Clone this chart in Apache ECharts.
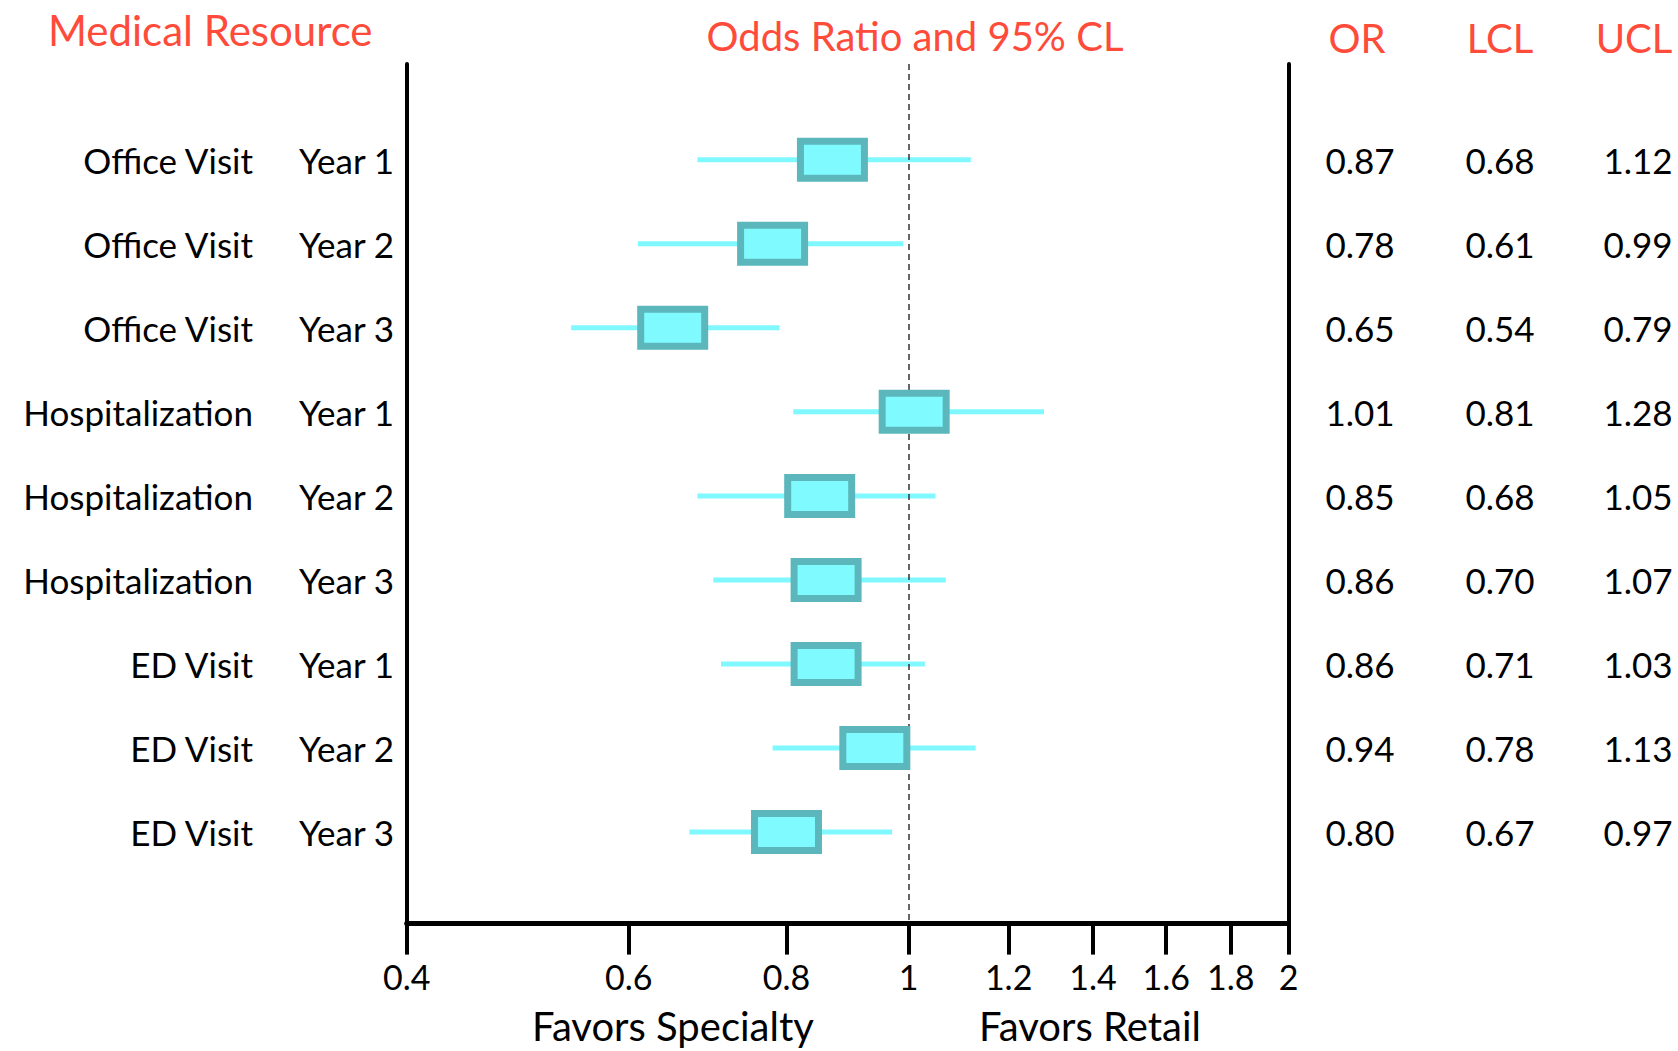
<!DOCTYPE html>
<html>
<head>
<meta charset="utf-8">
<script src="https://cdn.jsdelivr.net/npm/echarts@6/dist/echarts.min.js"></script>
<style>html,body{margin:0;padding:0;background:#fff}#c{width:1678px;height:1051px}</style>
</head>
<body>
<div id="c"></div>
<script>
const resources = ['Office Visit','Office Visit','Office Visit','Hospitalization','Hospitalization','Hospitalization','ED Visit','ED Visit','ED Visit'];
const years = ['Year 1','Year 2','Year 3','Year 1','Year 2','Year 3','Year 1','Year 2','Year 3'];
const orValues = [0.87,0.78,0.65,1.01,0.85,0.86,0.86,0.94,0.80];
const lclValues = [0.68,0.61,0.54,0.81,0.68,0.70,0.71,0.78,0.67];
const uclValues = [1.12,0.99,0.79,1.28,1.05,1.07,1.03,1.13,0.97];
const tickValues = [0.4,0.6,0.8,1,1.2,1.4,1.6,1.8,2];
const headers = ['Medical Resource','Odds Ratio and 95% CL','OR','LCL','UCL'];
const footers = ['Favors Specialty','Favors Retail'];

const FONT = 'Lato, "Noto Sans", sans-serif';
const RED = '#FF4B3A';
const rows = orValues.map((v,i)=>[i, v, lclValues[i], uclValues[i]]);

const chart = echarts.init(document.getElementById('c'), null, {renderer:'svg'});
const option = {
  animation:false,
  backgroundColor:'#fff',
  grid:{left:406.7, right:389.5, top:64, bottom:127.4},
  xAxis:{
    type:'log', logBase:10, min:0.4, max:2,
    axisLine:{show:true, onZero:false, lineStyle:{color:'#000', width:5}},
    axisTick:{show:true, customValues:tickValues, length:31, lineStyle:{color:'#000', width:4}},
    axisLabel:{show:true, customValues:tickValues, margin:36, fontSize:34, fontFamily:FONT, color:'#000',
      formatter:v=>String(parseFloat(Number(v).toFixed(2)))},
    splitLine:{show:false}, minorTick:{show:false}
  },
  yAxis:[
    {type:'value', inverse:true, min:-1.14, max:9.09, position:'left',
     axisLine:{show:true, onZero:false, lineStyle:{color:'#000', width:4}},
     axisTick:{show:false}, axisLabel:{show:false}, splitLine:{show:false}},
    {type:'value', inverse:true, min:-1.14, max:9.09, position:'right',
     axisLine:{show:true, onZero:false, lineStyle:{color:'#000', width:4}},
     axisTick:{show:false}, axisLabel:{show:false}, splitLine:{show:false}}
  ],
  graphic:[
    {type:'text', x:48, y:30, style:{text:headers[0], fontSize:42, fontFamily:FONT, fill:RED, align:'left', verticalAlign:'middle'}},
    {type:'text', x:915, y:36, style:{text:headers[1], fontSize:40, fontFamily:FONT, fill:RED, align:'center', verticalAlign:'middle'}},
    {type:'text', x:1357, y:38, style:{text:headers[2], fontSize:40, fontFamily:FONT, fill:RED, align:'center', verticalAlign:'middle'}},
    {type:'text', x:1500, y:38, style:{text:headers[3], fontSize:40, fontFamily:FONT, fill:RED, align:'center', verticalAlign:'middle'}},
    {type:'text', x:1634, y:38, style:{text:headers[4], fontSize:40, fontFamily:FONT, fill:RED, align:'center', verticalAlign:'middle'}},
    {type:'text', x:673, y:1026, style:{text:footers[0], fontSize:40, fontFamily:FONT, fill:'#000', align:'center', verticalAlign:'middle'}},
    {type:'text', x:1090, y:1026, style:{text:footers[1], fontSize:40, fontFamily:FONT, fill:'#000', align:'center', verticalAlign:'middle'}}
  ],
  series:[
    {
      type:'custom', name:'ci', z:1, silent:true,
      encode:{x:[1,2,3], y:0},
      data:rows,
      renderItem:(params, api)=>{
        const r = api.value(0);
        const pL = api.coord([api.value(2), r]);
        const pU = api.coord([api.value(3), r]);
        return {type:'line', shape:{x1:pL[0], y1:pL[1], x2:pU[0], y2:pU[1]},
          style:{stroke:'#7FF9FF', lineWidth:5}};
      },
      markLine:{silent:true, symbol:'none', label:{show:false},
        lineStyle:{color:'#333', width:1.5, type:[6,4]}, data:[{xAxis:1}], z:2}
    },
    {
      type:'custom', name:'or', z:3, silent:true,
      encode:{x:1, y:0},
      data:rows,
      renderItem:(params, api)=>{
        const r = api.value(0);
        const p = api.coord([api.value(1), r]);
        const w = 64, h = 37;
        return {type:'rect', shape:{x:p[0]-w/2, y:p[1]-h/2, width:w, height:h},
          style:{fill:'#7FFBFF', stroke:'#5BB7BC', lineWidth:7}};
      }
    },
    {
      type:'custom', name:'labels', z:4, silent:true,
      encode:{y:0},
      data:rows,
      renderItem:(params, api)=>{
        const i = params.dataIndex;
        const y = api.coord([1, api.value(0)])[1];
        const st = (text, x, align)=>({type:'text', x:x, y:y,
          style:{text:text, fontSize:35, fontFamily:FONT, fill:'#000', align:align, verticalAlign:'middle'}});
        return {type:'group', children:[
          st(resources[i], 253, 'right'),
          st(years[i], 299, 'left'),
          st(orValues[i].toFixed(2), 1360, 'center'),
          st(lclValues[i].toFixed(2), 1500, 'center'),
          st(uclValues[i].toFixed(2), 1638, 'center')
        ]};
      }
    }
  ]
};
chart.setOption(option);
</script>
</body>
</html>
